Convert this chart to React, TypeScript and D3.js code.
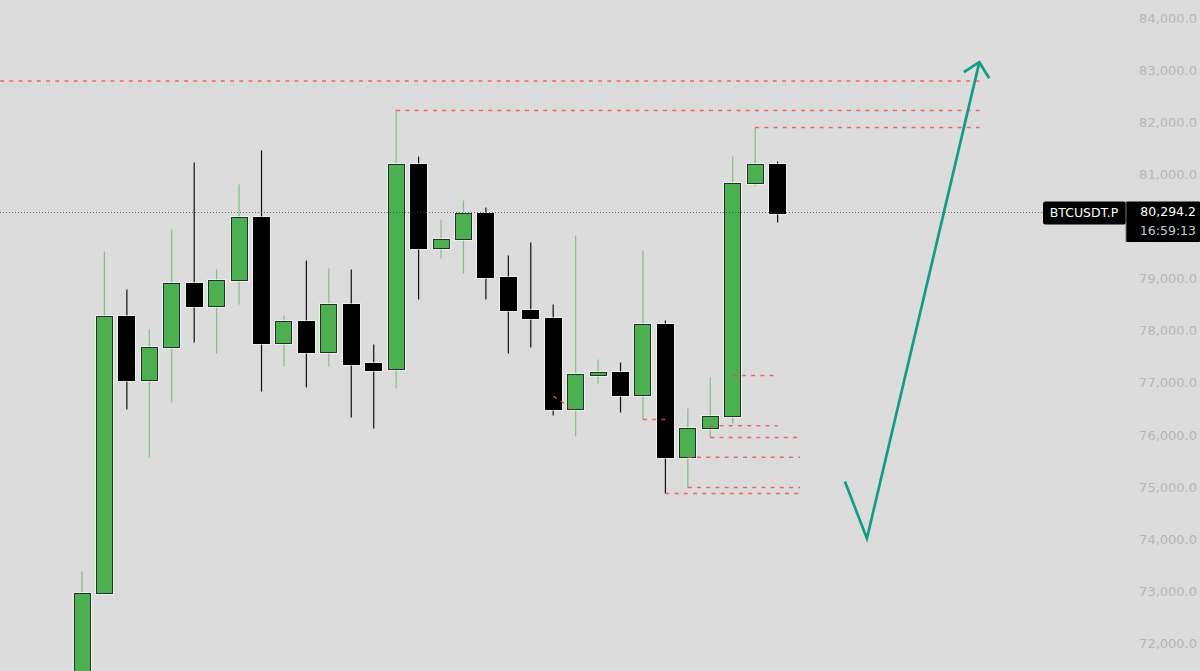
import React, { useEffect, useRef } from 'react'
import * as d3 from 'd3'

const width = 1200
const height = 671

const opens = [71000, 72970, 78288, 77059, 77693, 78922, 78480, 78979, 80189, 77770, 78192, 77597, 78518, 77386, 77270, 81206, 79594, 79766, 80266, 79037, 78403, 78250, 76502, 77155, 77213, 76771, 78134, 75575, 76138, 76368, 80842, 81206]
const highs = [73392, 79536, 78806, 78038, 79958, 81245, 79190, 80822, 81475, 78307, 79363, 79210, 79190, 77750, 82262, 81360, 80150, 80515, 80381, 79459, 79709, 78518, 79843, 77462, 77405, 79555, 78210, 76522, 77117, 81360, 81917, 81264]
const lows = [71000, 72970, 76502, 75581, 76637, 77789, 77578, 78518, 76848, 77328, 76925, 77328, 76349, 76138, 76906, 78614, 79402, 79114, 78614, 77578, 77693, 76387, 75984, 77002, 76445, 76310, 74890, 75005, 75965, 76234, 80784, 80093]
const closes = [72970, 78288, 77059, 77693, 78922, 78480, 78979, 80189, 77770, 78192, 77597, 78518, 77366, 77251, 81206, 79594, 79766, 80266, 79037, 78403, 78250, 76502, 77174, 77213, 76771, 78134, 75575, 76138, 76368, 80842, 81206, 80266]

// 80,000.0 sits behind the price label in the picture, so it is left out
const priceTicks = [84000, 83000, 82000, 81000, 79000, 78000, 77000, 76000, 75000, 74000, 73000, 72000]
const lastPrice = 80294.2
const symbol = 'BTCUSDT.P'
const countdown = '16:59:13'

// level lines: price, from bar, to bar
const levelPrices = [82810, 82243, 81917, 77155, 76190, 75965, 75587, 75005, 74890, 76310]
const levelFrom = [-3.65, 14, 30, 29, 28, 28, 27, 27, 26, 25]
const levelTo = [40, 40, 40, 30.84, 31, 31.9, 32, 32, 32, 26]

// short sloped level at bars 21-22
const slopedBars = [21.01, 21.83]
const slopedPrices = [76758, 76520]

// hand drawn arrow
const arrowBars = [34, 34.98, 39.99]
const arrowPrices = [75120, 74026, 83171]
const headBars = [39.3, 39.99, 40.43]
const headPrices = [82979, 83171, 82863]

export default function App() {
  const svgRef = useRef<SVGSVGElement>(null)

  useEffect(() => {
    if (!svgRef.current) return
    const svg = d3.select(svgRef.current)
    svg.selectAll('*').remove()

    const x = d3.scaleLinear().domain([0, 31]).range([82, 777.6])
    const y = d3.scaleLinear().domain([84000, 72000]).range([19, 644])
    const font = "'DejaVu Sans', sans-serif"
    const bodyW = 16
    const idx = d3.range(opens.length)
    const up = (i: number) => closes[i] >= opens[i]
    const snap = (v: number) => Math.floor(v) + 0.5
    const bodyTop = (i: number) => snap(y(Math.max(opens[i], closes[i])))
    const bodyBottom = (i: number) => snap(y(Math.min(opens[i], closes[i])))

    svg.append('rect').attr('width', width).attr('height', height).attr('fill', '#dcdcdc')

    // wicks
    svg.append('g').selectAll('line').data(idx).join('line')
      .attr('x1', i => x(i)).attr('x2', i => x(i))
      .attr('y1', i => y(highs[i])).attr('y2', i => y(lows[i]))
      .attr('stroke', i => up(i) ? '#7fc082' : '#111')
      .attr('stroke-width', 1.2)

    // light halo round the bodies
    svg.append('g').selectAll('rect').data(idx).join('rect')
      .attr('x', i => snap(x(i) - bodyW / 2) - 1)
      .attr('width', bodyW + 2)
      .attr('y', i => bodyTop(i) - 1)
      .attr('height', i => bodyBottom(i) - bodyTop(i) + 2)
      .attr('fill', 'none')
      .attr('stroke', '#fff')
      .attr('stroke-opacity', 0.55)

    // bodies
    svg.append('g').selectAll('rect').data(idx).join('rect')
      .attr('x', i => snap(x(i) - bodyW / 2))
      .attr('width', bodyW)
      .attr('y', bodyTop)
      .attr('height', i => bodyBottom(i) - bodyTop(i))
      .attr('fill', i => up(i) ? '#4caf50' : '#000')
      .attr('stroke', i => up(i) ? '#24302a' : '#000')
      .attr('stroke-width', 1)

    // last price line
    svg.append('line')
      .attr('x1', 0).attr('x2', 1043)
      .attr('y1', snap(y(lastPrice))).attr('y2', snap(y(lastPrice)))
      .attr('stroke', '#444').attr('stroke-opacity', 0.75)
      .attr('stroke-dasharray', '1 2')

    // levels
    svg.append('g').selectAll('line').data(levelPrices).join('line')
      .attr('x1', (_, i) => x(levelFrom[i])).attr('x2', (_, i) => x(levelTo[i]))
      .attr('y1', d => y(d)).attr('y2', d => y(d))
      .attr('stroke', '#f0474c')
      .attr('stroke-width', 1.4)
      .attr('stroke-opacity', 0.8)
      .attr('stroke-dasharray', '4 5.2')

    svg.append('line')
      .attr('x1', x(slopedBars[0])).attr('x2', x(slopedBars[1]))
      .attr('y1', y(slopedPrices[0])).attr('y2', y(slopedPrices[1]))
      .attr('stroke', '#ef5350').attr('stroke-width', 1.3).attr('stroke-dasharray', '4 5.2')

    // arrow
    const arrow = (bars: number[], prices: number[]) =>
      d3.line<number>().x(d => x(d)).y((_, i) => y(prices[i]))(bars)
    svg.append('g').selectAll('path').data([arrow(arrowBars, arrowPrices), arrow(headBars, headPrices)]).join('path')
      .attr('d', d => d as string)
      .attr('fill', 'none')
      .attr('stroke', '#129c86')
      .attr('stroke-width', 2.7)

    // price scale
    const fmt = d3.format(',.1f')
    svg.append('g').selectAll('text').data(priceTicks).join('text')
      .attr('x', 1197)
      .attr('y', d => y(d) - 0.7)
      .attr('dy', '0.35em')
      .attr('text-anchor', 'end')
      .attr('fill', '#b6b6b6')
      .attr('font-family', font)
      .attr('font-size', 13)
      .text(d => fmt(d))

    // symbol and price labels
    svg.append('rect').attr('x', 1043).attr('y', 201.5).attr('width', 83).attr('height', 23).attr('rx', 2.5).attr('fill', '#000')
    svg.append('rect').attr('x', 1126).attr('y', 201.5).attr('width', 74).attr('height', 40.5).attr('rx', 1).attr('fill', '#000')
    svg.append('line').attr('x1', 1126).attr('x2', 1126).attr('y1', 201.5).attr('y2', 242).attr('stroke', '#777')

    const smallText = (tx: number, ty: number, anchor: string, fill: string, s: string) =>
      svg.append('text').attr('x', tx).attr('y', ty).attr('dy', '0.35em').attr('text-anchor', anchor)
        .attr('fill', fill).attr('font-family', font).attr('font-size', 12.5).text(s)
    smallText(1084, 212.5, 'middle', '#fff', symbol)
    smallText(1196, 212, 'end', '#fff', fmt(lastPrice))
    smallText(1196, 230.5, 'end', '#c8c8c8', countdown)
  }, [])

  return (
    <svg
      ref={svgRef}
      width={width}
      height={height}
      style={{ position: 'absolute', top: 0, left: 0, display: 'block' }}
    />
  )
}
